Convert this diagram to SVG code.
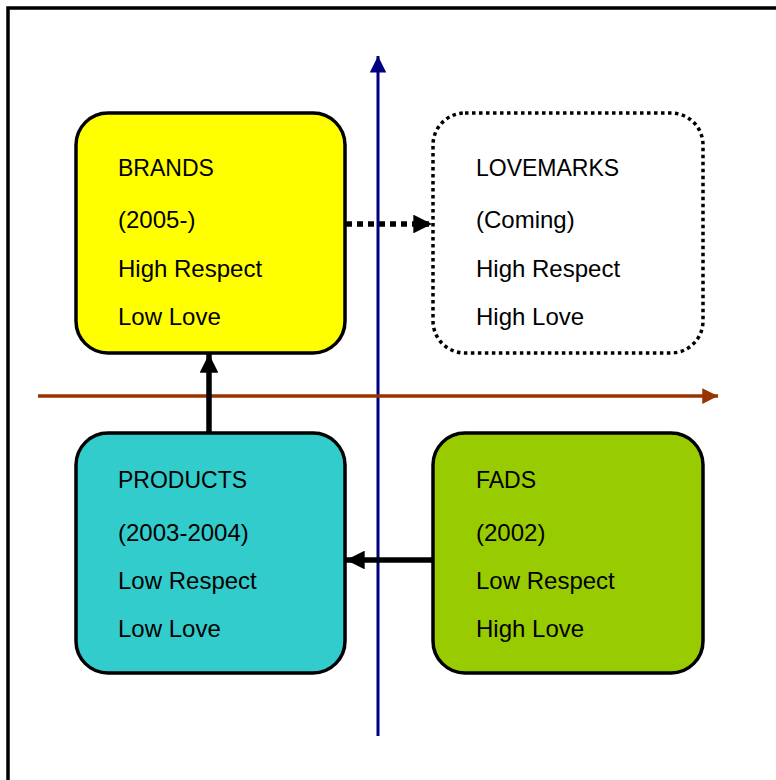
<svg xmlns="http://www.w3.org/2000/svg" width="776" height="780" viewBox="0 0 776 780">
  <style>
    .box { stroke: #000; stroke-width: 3.5; }
    .label { font-family: "Liberation Sans", Arial, sans-serif; font-size: 24px; fill: #000; }
    .title { font-size: 23px; }
  </style>
  <defs>
    <marker id="headBlack" viewBox="0 0 10 10" refX="10" refY="5" markerWidth="3.4" markerHeight="3.4" markerUnits="strokeWidth" orient="auto">
      <path d="M0,0 L10,5 L0,10 Z" fill="#000"/>
    </marker>
    <marker id="headNavy" viewBox="0 0 10 10" refX="10" refY="5" markerWidth="5.5" markerHeight="5.5" markerUnits="strokeWidth" orient="auto">
      <path d="M0,0 L10,5 L0,10 Z" fill="#000080"/>
    </marker>
    <marker id="headBrown" viewBox="0 0 10 10" refX="10" refY="5" markerWidth="4.5" markerHeight="4.5" markerUnits="strokeWidth" orient="auto">
      <path d="M0,0 L10,5 L0,10 Z" fill="#993300"/>
    </marker>
  </defs>

  <rect width="776" height="780" fill="#fff"/>
  <!-- outer frame -->
  <rect x="8" y="8" width="800" height="800" fill="none" stroke="#000" stroke-width="3.5"/>

  <!-- nodes -->
  <g id="brands">
    <rect class="box" x="76" y="113" width="269" height="240" rx="32" fill="#FFFF00"/>
    <text class="label title" x="118" y="176">BRANDS</text>
    <text class="label" x="118" y="228">(2005-)</text>
    <text class="label" x="118" y="277">High Respect</text>
    <text class="label" x="118" y="325">Low Love</text>
  </g>
  <g id="lovemarks">
    <rect x="433" y="113" width="270" height="240" rx="32" fill="#fff" stroke="#000" stroke-width="3.5" stroke-dasharray="3.5 3.5"/>
    <text class="label title" x="476" y="176">LOVEMARKS</text>
    <text class="label" x="476" y="228">(Coming)</text>
    <text class="label" x="476" y="277">High Respect</text>
    <text class="label" x="476" y="325">High Love</text>
  </g>
  <g id="products">
    <rect class="box" x="76" y="433" width="269" height="240" rx="32" fill="#33CCCC"/>
    <text class="label title" x="118" y="488">PRODUCTS</text>
    <text class="label" x="118" y="541">(2003-2004)</text>
    <text class="label" x="118" y="589">Low Respect</text>
    <text class="label" x="118" y="637">Low Love</text>
  </g>
  <g id="fads">
    <rect class="box" x="433" y="433" width="270" height="240" rx="32" fill="#99CC00"/>
    <text class="label title" x="476" y="488">FADS</text>
    <text class="label" x="476" y="541">(2002)</text>
    <text class="label" x="476" y="589">Low Respect</text>
    <text class="label" x="476" y="637">High Love</text>
  </g>

  <!-- axes and transitions -->
  <g id="connectors">
    <line x1="378" y1="736" x2="378" y2="56" stroke="#000080" stroke-width="3" marker-end="url(#headNavy)"/>
    <line x1="38" y1="396" x2="718" y2="396" stroke="#993300" stroke-width="3.5" marker-end="url(#headBrown)"/>
    <line x1="346" y1="224" x2="432" y2="224" stroke="#000" stroke-width="5.5" stroke-dasharray="6 5" marker-end="url(#headBlack)"/>
    <line x1="209" y1="433" x2="209" y2="354" stroke="#000" stroke-width="5.5" marker-end="url(#headBlack)"/>
    <line x1="433" y1="560" x2="346" y2="560" stroke="#000" stroke-width="5.5" marker-end="url(#headBlack)"/>
  </g>
</svg>
